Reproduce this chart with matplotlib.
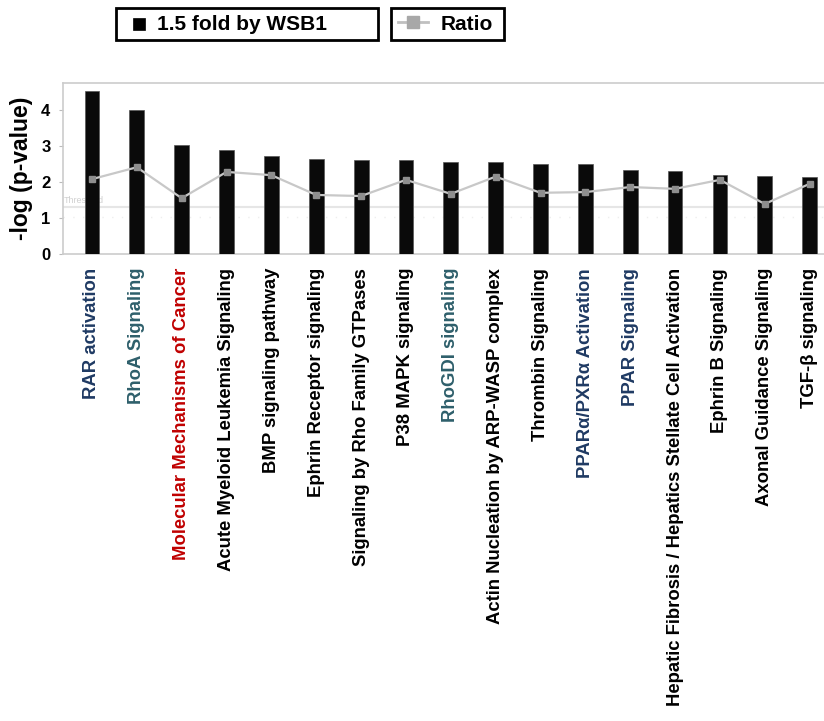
import numpy as np
import matplotlib
matplotlib.use("Agg")
import matplotlib.pyplot as plt
from matplotlib.patches import Rectangle
from matplotlib.lines import Line2D

plt.rcParams["font.family"] = ["Liberation Sans", "DejaVu Sans"]

# pathways (x categories), -log(p) bars and ratio line
pathways = [
    "RAR activation",
    "RhoA Signaling",
    "Molecular Mechanisms of Cancer",
    "Acute Myeloid Leukemia Signaling",
    "BMP signaling pathway",
    "Ephrin Receptor signaling",
    "Signaling by Rho Family GTPases",
    "P38 MAPK signaling",
    "RhoGDI signaling",
    "Actin Nucleation by ARP-WASP complex",
    "Thrombin Signaling",
    "PPARα/PXRα Activation",
    "PPAR Signaling",
    "Hepatic Fibrosis / Hepatics Stellate Cell Activation",
    "Ephrin B Signaling",
    "Axonal Guidance Signaling",
    "TGF-β signaling",
]
neg_log_p = [4.53, 4.01, 3.02, 2.90, 2.73, 2.64, 2.62, 2.61, 2.56,
             2.55, 2.50, 2.49, 2.33, 2.30, 2.20, 2.17, 2.15]
ratio = [2.08, 2.41, 1.55, 2.28, 2.19, 1.64, 1.61, 2.06, 1.67,
         2.15, 1.70, 1.72, 1.86, 1.81, 2.06, 1.39, 1.95]
label_colors = ["#1f3a63", "#2e5f6b", "#c00000", "black", "black", "black",
                "black", "black", "#2e5f6b", "black", "black", "#1f3a63",
                "#1f3a63", "black", "black", "black", "black"]
threshold = 1.31

W, H = 824, 721
fig = plt.figure(figsize=(W / 100, H / 100), dpi=100)
ax = fig.add_axes([63 / W, 1 - 254 / H, 1 - 63 / W, (254 - 83) / H])

x = np.arange(len(pathways))
ax.bar(x, neg_log_p, width=0.33, color="#0a0a0a", edgecolor="#555555",
       linewidth=0.5, zorder=3)

ax.axhline(threshold, color="#e6e6e6", lw=1.5, zorder=1)
ax.axhline(1.03, color="#eeeeee", lw=1, ls=(0, (1, 6)), zorder=1)
ax.text(-0.62, threshold + 0.05, "Threshold", color="#d0d0d0",
        fontsize=6.5, va="bottom", ha="left", zorder=2)

ax.plot(x, ratio, color="#c8c8c8", lw=1.6, marker="s", markersize=4.8,
        markerfacecolor="#8e8e8e", markeredgecolor="#8e8e8e", zorder=4)

ax.set_xlim(-0.646, 16.32)
ax.set_ylim(0, 4.75)
ax.set_yticks([0, 1, 2, 3, 4])
ax.set_yticklabels(["0", "1", "2", "3", "4"], fontsize=12, fontweight="bold")
ax.tick_params(axis="y", length=3, color="#bbbbbb", pad=6)
ax.tick_params(axis="x", length=0, pad=10)
ax.set_xticks(x)
ax.set_xticklabels(pathways, rotation=90, fontsize=13.3, fontweight="bold")
for lbl, c in zip(ax.get_xticklabels(), label_colors):
    lbl.set_color(c)

for side in ("left", "top", "bottom"):
    ax.spines[side].set_color("#cccccc")
    ax.spines[side].set_linewidth(1.2)
ax.spines["right"].set_visible(False)

ax.set_ylabel("-log (p-value)", fontsize=16.5, fontweight="bold", labelpad=6)

# two boxed legend entries across the top, in pixel positions
def px(xp, yp):
    return xp / W, 1 - yp / H

for (x0, x1) in [(116, 378), (391, 504)]:
    fig.add_artist(Rectangle(px(x0, 40), (x1 - x0) / W, 32 / H,
                             transform=fig.transFigure, facecolor="white",
                             edgecolor="black", linewidth=2))
fig.add_artist(Rectangle(px(133, 30), 12 / W, 12 / H,
                         transform=fig.transFigure, facecolor="black",
                         edgecolor="black", linewidth=0.5))
fig.text(*px(157, 24), "1.5 fold by WSB1", fontsize=15, fontweight="bold",
         ha="left", va="center")
fig.add_artist(Line2D([398 / W, 428 / W], [1 - 22 / H] * 2,
                      transform=fig.transFigure, color="#c0c0c0", lw=2))
fig.add_artist(Line2D([413 / W], [1 - 22 / H], transform=fig.transFigure,
                      marker="s", markersize=9, color="#a8a8a8", lw=0))
fig.text(*px(441, 24), "Ratio", fontsize=15, fontweight="bold",
         ha="left", va="center")

fig.savefig("out.png", dpi=100)
